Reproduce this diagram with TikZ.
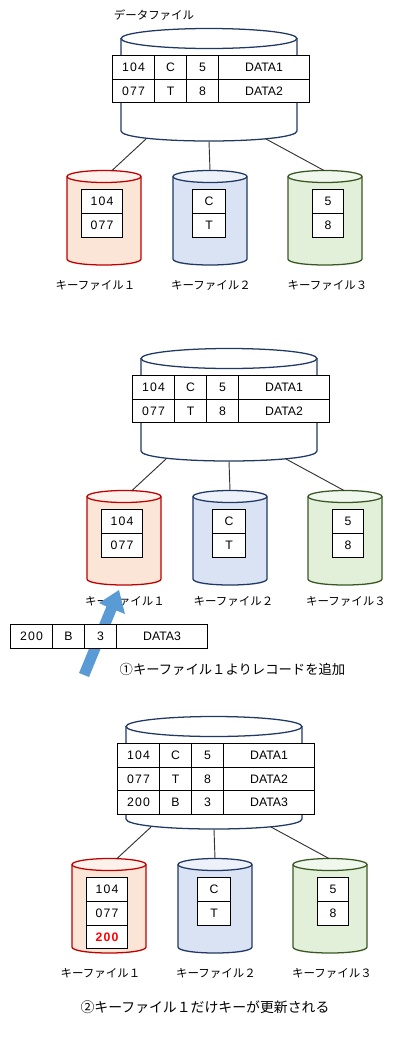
\documentclass[tikz,border=0pt]{standalone}
\usepackage{fontspec}
\setmainfont{Liberation Sans}
\newfontfamily\jpfont{Noto Sans CJK JP}
\newfontfamily\numfont[LetterSpace=9]{Liberation Sans}
\definecolor{redS}{HTML}{C00000}\definecolor{redF}{HTML}{FBE5D6}\definecolor{redT}{HTML}{FDF2EB}
\definecolor{bluS}{HTML}{203864}\definecolor{bluF}{HTML}{DAE3F3}\definecolor{bluT}{HTML}{EDF1F9}
\definecolor{grnS}{HTML}{385723}\definecolor{grnF}{HTML}{E2F0D9}\definecolor{grnT}{HTML}{F0F7EC}
\definecolor{arrowblue}{HTML}{5B9BD5}
\tikzset{
  x=0.75pt,y=-0.75pt,
  canline/.style={line width=0.95pt},
  link/.style={draw=black!80,line width=0.7pt},
  cellbox/.style={draw=black,fill=white,line width=0.75pt,inner sep=0pt,
    font=\fontsize{9.2}{11}\selectfont,text height=6.6pt,text depth=0pt},
  keylabel/.style={font=\jpfont\fontsize{8.6}{10}\selectfont,inner sep=0pt},
  caption/.style={font=\jpfont\fontsize{10}{12}\selectfont,inner sep=0pt},
  captionb/.style={font=\jpfont\fontsize{10.4}{12}\selectfont,inner sep=0pt},
  addarrow/.style={fill=arrowblue,draw=none}
}
% \can{x1}{x2}{ytop-centre}{yside-end}{ybottom}{ry}{stroke}{fill}{topfill}
\newcommand{\can}[9]{%
  \pgfmathsetmacro{\cx}{(#1+#2)/2}%
  \pgfmathsetmacro{\rx}{(#2-#1)/2}%
  \pgfmathsetmacro{\kx}{\rx*0.5523}%
  \pgfmathsetmacro{\ca}{\cx-\kx}%
  \pgfmathsetmacro{\cb}{\cx+\kx}%
  \fill[#8] (#1,#3) -- (#1,#4) .. controls (#1,#5) and (\ca,#5) .. (\cx,#5)
     .. controls (\cb,#5) and (#2,#5) .. (#2,#4) -- (#2,#3) -- cycle;
  \draw[canline,#7] (#1,#3) -- (#1,#4) .. controls (#1,#4+0.6*#5-0.6*#4) and (\ca,#5) .. (\cx,#5)
     .. controls (\cb,#5) and (#2,#4+0.6*#5-0.6*#4) .. (#2,#4) -- (#2,#3);
  \draw[canline,#7,fill=#9] (\cx,#3) ellipse [x radius=\rx,y radius=#6];
}
% \tcell{name}{x1}{x2}{y1}{y2}{text}
\newcommand{\tcell}[6]{%
  \pgfmathsetmacro{\mx}{(#2+#3)/2}%
  \pgfmathsetmacro{\my}{(#4+#5)/2}%
  \pgfmathsetmacro{\mw}{(#3-#2)*0.75}%
  \pgfmathsetmacro{\mh}{(#5-#4)*0.75}%
  \node[cellbox,minimum width=\mw pt,minimum height=\mh pt] (#1) at (\mx,\my) {#6};
}
% \rowcells{prefix}{y1}{y2}{a}{b}{c}{d}
\newcommand{\rowcells}[7]{%
  \tcell{#1a}{112.5}{154.5}{#2}{#3}{\numfont #4}%
  \tcell{#1b}{154.5}{186.5}{#2}{#3}{#5}%
  \tcell{#1c}{186.5}{218.5}{#2}{#3}{#6}%
  \tcell{#1d}{218.5}{309.5}{#2}{#3}{#7\hspace{1.5pt}}%
}
% \bigcan{prefix}
\newcommand{\bigcan}[1]{%
  \can{121}{297}{38.5}{131}{141}{10}{bluS}{white}{white}%
  \coordinate (#1L) at (146,139);
  \coordinate (#1M) at (209,141.5);
  \coordinate (#1R) at (266,139);
}
% \smallcans{prefix}
\newcommand{\smallcans}[1]{%
  \can{67}{141}{176.5}{259}{265}{6}{redS}{redF}{redT}%
  \can{173}{247}{176.5}{259}{265}{6}{bluS}{bluF}{bluT}%
  \can{288}{362}{176.5}{259}{265}{6}{grnS}{grnF}{grnT}%
  \coordinate (#1kA) at (112,170.5);
  \coordinate (#1kB) at (210,170.5);
  \coordinate (#1kC) at (324,170.5);
  \draw[link] (#1L) -- (#1kA);
  \draw[link] (#1M) -- (#1kB);
  \draw[link] (#1R) -- (#1kC);
}
% \keytabs{prefix}
\newcommand{\keytabs}[1]{%
  \tcell{#1ka}{81.5}{122.5}{189.5}{213.5}{\numfont 104}%
  \tcell{#1kb}{81.5}{122.5}{213.5}{237.5}{\numfont 077}%
  \tcell{#1kc}{192.5}{225.5}{189.5}{213.5}{C}%
  \tcell{#1kd}{192.5}{225.5}{213.5}{237.5}{T}%
  \tcell{#1ke}{312.5}{343.5}{189.5}{213.5}{5}%
  \tcell{#1kf}{312.5}{343.5}{213.5}{237.5}{8}%
}
\begin{document}
\begin{tikzpicture}
\useasboundingbox (0,0) rectangle (417,1046);
% --- first stage
\node[keylabel] (title) at (154,15) {データファイル};
\begin{scope}
  \bigcan{p}
  \smallcans{p}
  \rowcells{pr}{55.5}{79.5}{104}{C}{5}{DATA1}
  \rowcells{ps}{79.5}{102}{077}{T}{8}{DATA2}
  \keytabs{p}
\end{scope}
\node[keylabel] (pl1) at (95.5,285) {キーファイル１};
\node[keylabel] (pl2) at (211,285) {キーファイル２};
\node[keylabel] (pl3) at (327.5,285) {キーファイル３};
% --- second stage
\begin{scope}[shift={(20,320)}]
  \bigcan{q}
  \smallcans{q}
  \rowcells{qr}{55.5}{79.5}{104}{C}{5}{DATA1}
  \rowcells{qs}{79.5}{102}{077}{T}{8}{DATA2}
  \keytabs{q}
\end{scope}
\node[keylabel] (ql1) at (125,601.5) {キーファイル１};
\node[keylabel] (ql2) at (233.5,601.5) {キーファイル２};
\node[keylabel] (ql3) at (346,601.5) {キーファイル３};
\fill[addarrow] (79,673) -- (89,677) -- (116.4,610.5) -- (125,614) -- (119,590) -- (99,603) -- (106.4,606.5) -- cycle;
\begin{scope}[shift={(-102,569)}]
  \rowcells{qn}{55.5}{79}{200}{B}{3}{DATA3}
\end{scope}
\node[caption] (qcap) at (232.5,669.5) {①キーファイル１よりレコードを追加};
% --- third stage
\begin{scope}[shift={(5,688)}]
  \bigcan{t}
  \smallcans{t}
  \rowcells{tr}{55.5}{79.5}{104}{C}{5}{DATA1}
  \rowcells{ts}{79.5}{102.5}{077}{T}{8}{DATA2}
  \rowcells{tu}{102.5}{126.5}{200}{B}{3}{DATA3}
  \keytabs{t}
  \tcell{tkg}{81.5}{122.5}{237.5}{260.5}{\numfont\textcolor{red}{\bfseries 200}}
\end{scope}
\node[keylabel] (tl1) at (100.5,973.5) {キーファイル１};
\node[keylabel] (tl2) at (216,973.5) {キーファイル２};
\node[keylabel] (tl3) at (332,973.5) {キーファイル３};
\node[captionb] (tcap) at (205,1007.5) {②キーファイル１だけキーが更新される};
\end{tikzpicture}
\end{document}
